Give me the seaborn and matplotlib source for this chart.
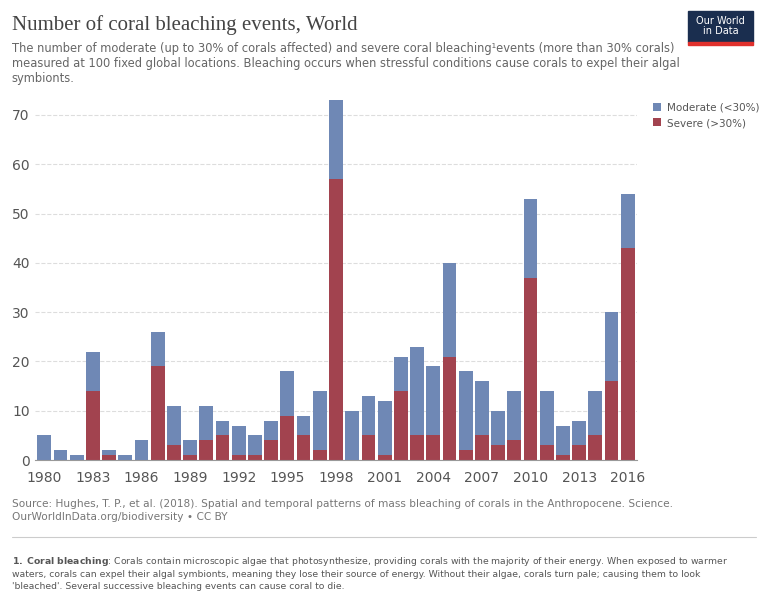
import matplotlib.pyplot as plt
import seaborn as sns
import pandas as pd

years = list(range(1980, 2017))
severe = [0, 0, 0, 14, 1, 0, 0, 19, 3, 1, 4, 5, 1, 1, 4, 9, 5, 2, 57, 0,
          5, 1, 14, 5, 5, 21, 2, 5, 3, 4, 37, 3, 1, 3, 5, 16, 43]
total = [5, 2, 1, 22, 2, 1, 4, 26, 11, 4, 11, 8, 7, 5, 8, 18, 9, 14, 73, 10,
         13, 12, 21, 23, 19, 40, 18, 16, 10, 14, 53, 14, 7, 8, 14, 30, 54]
moderate = [t - s for t, s in zip(total, severe)]

df = pd.DataFrame({'year': years, 'severe': severe, 'moderate': moderate})

c_mod = '#6f88b5'
c_sev = '#a2434f'

sns.set_style('white')
plt.rcParams['font.family'] = 'DejaVu Sans'
fig = plt.figure(figsize=(7.68, 6.03), dpi=100)
ax = fig.add_axes([0.045, 0.237, 0.785, 0.597])

x = list(range(len(years)))
ax.bar(x, df['severe'], width=0.85, color=c_sev, edgecolor='none', label='Severe (>30%)')
ax.bar(x, df['moderate'], bottom=df['severe'], width=0.85, color=c_mod, edgecolor='none',
       label='Moderate (<30%)')

ax.set_xlim(-0.6, len(years) - 0.4)
ax.set_ylim(0, 73)
ax.set_yticks(range(0, 71, 10))
ax.set_xticks(x[::3])
ax.set_xticklabels([str(years[i]) for i in x[::3]])
ax.tick_params(labelsize=10, colors='#555555', length=0)
ax.tick_params(axis='x', length=4, color='#999999')
ax.yaxis.grid(True, color='#dddddd', linestyle='--', linewidth=0.8)
ax.set_axisbelow(True)
for s in ['top', 'right', 'left']:
    ax.spines[s].set_visible(False)
ax.spines['bottom'].set_color('#999999')

h, l = ax.get_legend_handles_labels()
fig.legend(h[::-1], l[::-1], loc='upper left', bbox_to_anchor=(0.838, 0.845),
           frameon=False, fontsize=7.5, handlelength=0.8, handleheight=0.8,
           handletextpad=0.5, labelcolor='#555555')

fig.text(0.015, 0.958, 'Number of coral bleaching events, World', fontsize=15,
         color='#444444', family='Liberation Serif', va='center')
fig.text(0.015, 0.895,
         'The number of moderate (up to 30% of corals affected) and severe coral bleaching\u00b9events (more than 30% corals)\n'
         'measured at 100 fixed global locations. Bleaching occurs when stressful conditions cause corals to expel their algal\n'
         'symbionts.', fontsize=8.3, color='#666666', va='center', linespacing=1.2)

fig.patches.append(plt.Rectangle((0.896, 0.93), 0.085, 0.052, transform=fig.transFigure,
                                 color='#1a2e4f', zorder=5))
fig.patches.append(plt.Rectangle((0.896, 0.925), 0.085, 0.006, transform=fig.transFigure,
                                 color='#e0302c', zorder=6))
fig.text(0.9385, 0.957, 'Our World\nin Data', ha='center', va='center', fontsize=7,
         color='white', zorder=7, linespacing=1.0)

fig.text(0.015, 0.153, 'Source: Hughes, T. P., et al. (2018). Spatial and temporal patterns of mass bleaching of corals in the Anthropocene. Science.\n'
         'OurWorldInData.org/biodiversity \u2022 CC BY', fontsize=7.6, color='#777777', va='center', linespacing=1.35)
fig.add_artist(plt.Line2D([0.015, 0.985], [0.11, 0.11], transform=fig.transFigure,
                          color='#cccccc', linewidth=0.8))
fig.text(0.015, 0.05, r'$\bf{1.\ Coral\ bleaching}$: Corals contain microscopic algae that photosynthesize, providing corals with the majority of their energy. When exposed to warmer' '\n'
         'waters, corals can expel their algal symbionts, meaning they lose their source of energy. Without their algae, corals turn pale; causing them to look\n'
         "'bleached'. Several successive bleaching events can cause coral to die.",
         fontsize=6.7, color='#555555', va='center', linespacing=1.4)

fig.savefig('out.png', dpi=100)
